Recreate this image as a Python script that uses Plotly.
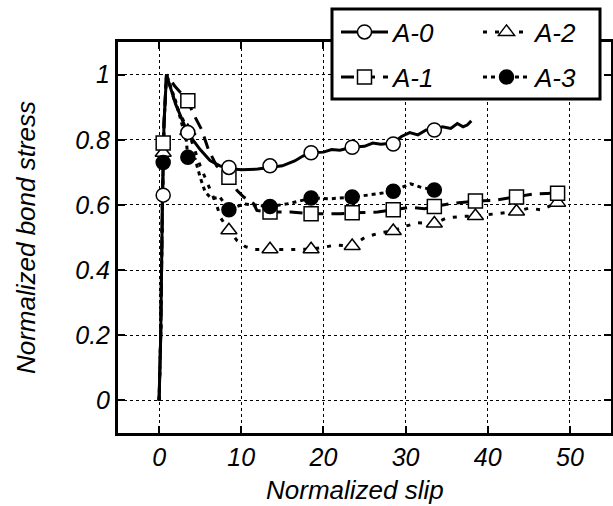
import plotly.graph_objects as go

# ---------------- data ----------------
# A-0 : solid line, open circles
a0_line_x = [0, 0.2, 0.4, 0.6, 0.9, 2.0, 3.5, 5.0, 6.2, 7.4, 8.5, 10.0, 12.0, 13.5, 15.0, 16.5,
             17.5, 18.5, 20.0, 21.0, 22.0, 23.5, 25.0, 26.0, 27.0, 28.5, 29.5, 30.5, 31.5, 32.5,
             33.5, 34.5, 35.5, 36.3, 37.0, 37.5, 38.0]
a0_line_y = [0, 0.2, 0.6, 0.85, 1.0, 0.91, 0.82, 0.77, 0.736, 0.72, 0.712, 0.708, 0.71, 0.715, 0.72, 0.735,
             0.75, 0.76, 0.762, 0.77, 0.768, 0.777, 0.78, 0.79, 0.786, 0.79, 0.81, 0.822, 0.815, 0.83,
             0.83, 0.84, 0.835, 0.85, 0.84, 0.845, 0.858]
a0_mark_x = [0.5, 3.5, 8.5, 13.5, 18.5, 23.5, 28.5, 33.5]
a0_mark_y = [0.63, 0.822, 0.715, 0.72, 0.76, 0.777, 0.787, 0.83]

# A-1 : long dashes, open squares
a1_line_x = [0, 0.2, 0.4, 0.6, 0.9, 1.9, 3.5, 4.1, 5.2, 6.0, 7.0, 8.5, 9.5, 10.3, 11.5, 11.9,
             13.5, 16.0, 18.5, 22.1, 23.5, 26.6, 28.5, 30.6, 32.3, 33.5, 35.5, 38.5, 40.8,
             43.5, 45.7, 48.5]
a1_line_y = [0, 0.2, 0.6, 0.85, 1.0, 0.965, 0.92, 0.883, 0.83, 0.77, 0.72, 0.685, 0.644, 0.624, 0.604, 0.583,
             0.578, 0.578, 0.573, 0.573, 0.576, 0.578, 0.585, 0.593, 0.588, 0.595, 0.604, 0.612, 0.614,
             0.624, 0.634, 0.636]
a1_mark_x = [0.5, 3.5, 8.5, 13.5, 18.5, 23.5, 28.5, 33.5, 38.5, 43.5, 48.5]
a1_mark_y = [0.79, 0.92, 0.685, 0.578, 0.573, 0.576, 0.585, 0.595, 0.612, 0.624, 0.636]

# A-2 : short dashes, open triangles
a2_line_x = [0, 0.2, 0.4, 0.6, 0.9, 2.0, 3.5, 5.0, 6.0, 7.0, 7.5, 8.5, 9.5, 10.5, 11.7, 13.5,
             16.0, 18.5, 20.0, 21.5, 23.5, 25.0, 27.0, 28.5, 30.0, 31.5, 33.5, 35.0, 37.0,
             38.5, 40.0, 42.0, 43.5, 45.0, 46.5, 48.5]
a2_line_y = [0, 0.2, 0.6, 0.85, 1.0, 0.91, 0.83, 0.72, 0.66, 0.6, 0.56, 0.522, 0.49, 0.472, 0.463, 0.464,
             0.463, 0.464, 0.47, 0.477, 0.474, 0.5, 0.515, 0.52, 0.535, 0.545, 0.543, 0.56, 0.565,
             0.566, 0.57, 0.575, 0.58, 0.59, 0.585, 0.607]
a2_mark_x = [0.5, 3.5, 8.5, 13.5, 18.5, 23.5, 28.5, 33.5, 38.5, 43.5, 48.5]
a2_mark_y = [0.76, 0.827, 0.522, 0.464, 0.464, 0.474, 0.52, 0.543, 0.566, 0.58, 0.607]

# A-3 : dots, filled circles
a3_line_x = [0, 0.2, 0.4, 0.6, 0.9, 2.0, 3.3, 3.5, 4.4, 5.0, 5.6, 6.4, 7.4, 8.5, 10.3, 13.5,
             16.0, 18.5, 20.9, 23.5, 26.6, 28.5, 30.6, 31.9, 33.5]
a3_line_y = [0, 0.2, 0.6, 0.85, 1.0, 0.92, 0.8, 0.746, 0.74, 0.685, 0.64, 0.619, 0.624, 0.585, 0.603, 0.595,
             0.605, 0.621, 0.619, 0.624, 0.634, 0.642, 0.665, 0.654, 0.646]
a3_mark_x = [0.5, 3.5, 8.5, 13.5, 18.5, 23.5, 28.5, 33.5]
a3_mark_y = [0.73, 0.746, 0.585, 0.595, 0.621, 0.624, 0.642, 0.646]

x_ticks = [0, 10, 20, 30, 40, 50]
y_ticks = [0, 0.2, 0.4, 0.6, 0.8, 1.0]
y_tick_text = ["0", "0.2", "0.4", "0.6", "0.8", "1"]
x_title = "Normalized slip"
y_title = "Normalized bond stress"

# ---------------- styling ----------------
FONT = "Liberation Sans, Arial, sans-serif"
series = {
    "A-0": dict(lx=a0_line_x, ly=a0_line_y, mx=a0_mark_x, my=a0_mark_y, dash="solid",
                symbol="circle", fill="white", legend="legend"),
    "A-2": dict(lx=a2_line_x, ly=a2_line_y, mx=a2_mark_x, my=a2_mark_y, dash="4px,8px",
                symbol="triangle-up", fill="white", legend="legend"),
    "A-1": dict(lx=a1_line_x, ly=a1_line_y, mx=a1_mark_x, my=a1_mark_y, dash="13px,8px",
                symbol="square", fill="white", legend="legend2"),
    "A-3": dict(lx=a3_line_x, ly=a3_line_y, mx=a3_mark_x, my=a3_mark_y, dash="4px,4px",
                symbol="circle", fill="black", legend="legend2"),
}

fig = go.Figure()
# lines
for name in ["A-2", "A-3", "A-1", "A-0"]:
    s = series[name]
    fig.add_trace(go.Scatter(x=s["lx"], y=s["ly"], mode="lines", showlegend=False,
                             line=dict(color="black", width=3, dash=s["dash"]),
                             hoverinfo="skip"))
# markers
for name in ["A-2", "A-1", "A-3", "A-0"]:
    s = series[name]
    fig.add_trace(go.Scatter(x=s["mx"], y=s["my"], mode="markers", showlegend=False, name=name,
                             marker=dict(symbol=s["symbol"], size=14, color=s["fill"],
                                         line=dict(color="black", width=1.5))))
# legend entries
for name in ["A-0", "A-2", "A-1", "A-3"]:
    s = series[name]
    fig.add_trace(go.Scatter(x=[None], y=[None], mode="lines+markers", name=name,
                             legend=s["legend"],
                             line=dict(color="black", width=3, dash=s["dash"]),
                             marker=dict(symbol=s["symbol"], size=14, color=s["fill"],
                                         line=dict(color="black", width=1.5))))

axis_common = dict(showline=True, linewidth=3, linecolor="black", mirror="ticks",
                   ticks="inside", ticklen=7, tickwidth=2, tickcolor="black",
                   showgrid=True, gridcolor="black", gridwidth=1, griddash="3px,3px",
                   zeroline=False, tickfont=dict(family=FONT, size=25, color="black", style="italic"))

fig.update_xaxes(range=[-5, 55], tickvals=x_ticks, **axis_common)
fig.update_yaxes(range=[-0.1, 1.1], tickvals=y_ticks, ticktext=y_tick_text,
                 title=dict(text=y_title, font=dict(family=FONT, size=26, color="black", style="italic"),
                            standoff=33),
                 **axis_common)

PL, PR, PT, PB = 118, 611, 42, 433
W, H = 613, 506
pw, ph = PR - PL, PB - PT

def px_x(v):
    return (v - PL) / pw

def px_y(v):
    return (PB - v) / ph

leg_common = dict(orientation="h", xanchor="left", yanchor="middle", entrywidth=80,
                  entrywidthmode="pixels", itemwidth=47, bgcolor="rgba(0,0,0,0)", borderwidth=0,
                  font=dict(family=FONT, size=26, color="black", style="italic"))

fig.update_layout(
    width=W, height=H, margin=dict(l=PL, r=W - PR, t=PT, b=H - PB, autoexpand=False),
    paper_bgcolor="white", plot_bgcolor="white",
    legend=dict(x=px_x(336), y=px_y(32), **leg_common),
    legend2=dict(x=px_x(336), y=px_y(77), **leg_common),
    shapes=[dict(type="rect", xref="paper", yref="paper", layer="above",
                 x0=px_x(332), x1=px_x(600), y0=px_y(99), y1=px_y(9),
                 line=dict(color="black", width=3), fillcolor="white")],
    annotations=[dict(text=x_title, xref="paper", yref="paper", x=px_x(355), y=px_y(490),
                      xanchor="center", yanchor="middle", showarrow=False,
                      font=dict(family=FONT, size=26, color="black", style="italic"))],
)

fig.write_html("out.html", post_script="document.body.style.margin='0';",
               config={"displayModeBar": False})
